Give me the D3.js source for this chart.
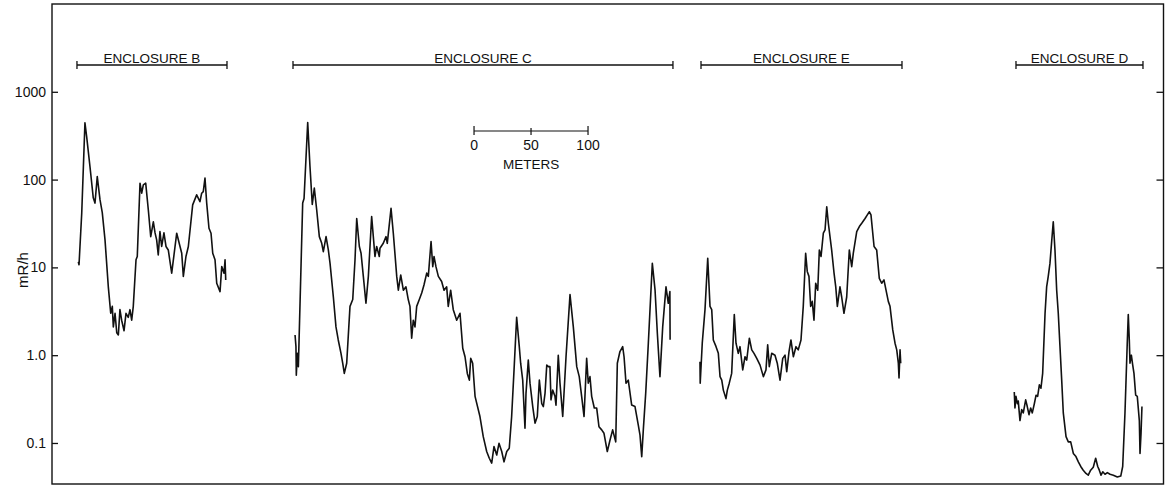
<!DOCTYPE html>
<html>
<head>
<meta charset="utf-8">
<script src="https://cdn.jsdelivr.net/npm/d3@7"></script>
<style>
  body { margin: 0; background: #fff; }
  svg { display: block; }
  text { font-family: "Liberation Sans", Arial, sans-serif; fill: #111; }
  .trace { fill: none; stroke: #111; stroke-width: 1.6; stroke-linejoin: round; }
</style>
</head>
<body>
<script>
// distance along traverse (m) and exposure rate (mR/h)
var traceB = [
  [23.1, 11.6], [23.7, 10.7], [26.1, 42], [28.9, 443], [30.4, 309], [33.3, 141], [36.2, 62],
  [37.7, 54], [39.7, 108], [42.1, 59], [44.1, 42], [46.5, 20.6], [49.4, 6.0], [51.5, 3.0],
  [52.9, 3.6], [53.8, 2.1], [55.3, 3.0], [56.8, 1.8], [58.2, 1.7], [59.6, 3.3], [61.1, 2.5],
  [63.2, 1.9], [64.9, 3.0], [66.9, 2.7], [68.4, 3.3], [69.9, 2.5], [71.3, 3.6], [73.7, 12.2],
  [74.8, 13.3], [77.2, 91], [78.7, 70], [80.1, 87], [82.2, 91], [84.5, 45], [86.6, 22.4],
  [88.9, 33], [90.4, 24.7], [91.8, 20.6], [93.2, 13.9], [94.7, 25.6], [96.2, 17.3], [98.2, 24.7],
  [100, 17.3], [102, 15.8], [105, 8.6], [109.4, 24.5], [112.3, 17.3], [113.8, 14.5], [115.2, 7.9],
  [117.5, 13.3], [119.6, 17.3], [123.4, 51.5], [126.9, 67], [129.8, 56], [131.3, 70], [132.7, 73],
  [134.2, 104], [135.7, 54], [137.7, 27.9], [139.5, 24.5], [141, 14.5], [143, 12.2], [144.5, 6.6],
  [147.4, 5.3], [148.9, 10.2], [150.9, 8.6], [151.8, 12.2], [152.4, 7.2]
];
var traceC = [
  [213.2, 1.7], [214.0, 1.25], [214.3, 0.59], [215.2, 1.05], [216.1, 0.74], [219.9, 54], [221.1, 61],
  [224.3, 447], [226.3, 141], [228.3, 52], [230.1, 80], [232.2, 45], [234.5, 22.4], [236.6, 18.8],
  [238.0, 15.1], [240.4, 22.4], [242.4, 15.8], [243.9, 11.1], [246.8, 4.6], [249.1, 2.1], [251.1, 1.49],
  [253.5, 1.05], [255.0, 0.81], [256.4, 0.62], [258.5, 0.81], [261.4, 3.6], [263.8, 4.3], [265.8, 12.2],
  [267.3, 36], [269.6, 17.3], [271.1, 14.5], [273.1, 7.9], [275.4, 3.9], [277.5, 7.9], [280.4, 38],
  [283.3, 13.3], [284.8, 17.3], [287.1, 13.3], [287.7, 16.5], [290.6, 18.8], [293.0, 22.4], [294.1, 18.8],
  [297.4, 47], [299.4, 24.5], [302.4, 7.9], [303.8, 5.5], [305.9, 8.2], [308.2, 5.5], [310.5, 6.0],
  [312.5, 4.3], [314.0, 3.6], [315.5, 1.56], [316.9, 2.5], [318.4, 2.1], [319.9, 3.6], [322.2, 4.3],
  [324.3, 5.1], [326.3, 6.3], [328.7, 8.6], [330.1, 7.9], [332.5, 19.7], [334.0, 10.2], [335.1, 13.3],
  [336.8, 10.2], [338.9, 7.9], [341.8, 6.9], [343.9, 5.5], [346.2, 6.0], [347.6, 3.6], [349.7, 5.5],
  [352.0, 3.3], [355.0, 2.5], [357.9, 3.0], [360.3, 1.2], [362.3, 0.96], [364.3, 0.62], [366.1, 0.52],
  [367.3, 0.92], [369.0, 0.81], [371.1, 0.34], [375.4, 0.2], [378.3, 0.118], [381.3, 0.08], [383.6, 0.067],
  [385.7, 0.059], [387.7, 0.091], [390.1, 0.073], [392.1, 0.099], [394.5, 0.08], [396.5, 0.061],
  [398.9, 0.08], [401.1, 0.087], [403.2, 0.2], [405.3, 0.68], [407.6, 2.7], [409.9, 1.25], [411.1, 0.81],
  [412.9, 0.52], [414.9, 0.147], [415.8, 0.37], [417.8, 0.88], [419.3, 0.48], [421.7, 0.26], [423.7, 0.168],
  [425.7, 0.2], [427.5, 0.52], [429.6, 0.28], [431.0, 0.26], [432.5, 0.37], [434.0, 0.77], [435.4, 0.74],
  [436.8, 0.74], [437.7, 0.31], [439.2, 0.4], [441.2, 0.34], [442.1, 0.27], [444.1, 1.0], [445.6, 0.48],
  [448.0, 0.2], [450.9, 0.96], [454.4, 4.9], [457.3, 2.1], [460.3, 0.74], [462.5, 0.57], [464.6, 0.34],
  [466.7, 0.2], [469.0, 0.92], [470.4, 0.48], [471.9, 0.57], [473.4, 0.34], [475.7, 0.25], [477.8, 0.25],
  [479.8, 0.153], [482.2, 0.141], [484.2, 0.129], [487.1, 0.08], [489.5, 0.108], [491.8, 0.141],
  [494.5, 0.103], [495.9, 0.81], [498.2, 1.1], [500.6, 1.25], [501.8, 0.96], [503.5, 0.48], [505.5, 0.52],
  [508.5, 0.27], [511.4, 0.26], [514.3, 0.16], [515.8, 0.123], [517.3, 0.07], [518.7, 0.141], [520.8, 0.37],
  [523.1, 1.37], [526.6, 11.1], [529.0, 5.5], [531.0, 1.78], [533.3, 0.57], [535.7, 2.1], [538.6, 6.0],
  [540.6, 3.9], [542.0, 5.3], [542.2, 1.5]
];
var traceE = [
  [568.4, 0.84], [568.6, 0.48], [570.4, 1.37], [572.8, 3.3], [575.2, 12.7], [577.2, 3.6], [578.7, 3.3],
  [580.1, 1.49], [582.5, 1.25], [584.5, 1.05], [586.0, 0.57], [587.5, 0.52], [588.9, 0.4], [591.2, 0.32],
  [592.4, 0.4], [594.1, 0.48], [596.2, 0.62], [598.5, 2.9], [600.0, 1.37], [602.0, 1.05], [603.5, 1.25],
  [605.9, 0.68], [607.9, 0.96], [609.4, 0.88], [611.7, 1.56], [613.8, 1.15], [615.8, 1.05], [618.2, 0.92],
  [621.1, 0.77], [624.0, 0.57], [626.3, 0.68], [627.8, 1.31], [629.2, 0.74], [631.3, 1.05], [634.2, 1.0],
  [636.2, 0.81], [638.6, 0.52], [641.0, 0.92], [643.0, 1.0], [644.5, 0.65], [646.5, 1.1], [648.2, 1.49],
  [650.3, 0.96], [652.6, 1.25], [654.6, 1.15], [657.0, 1.49], [659.0, 3.6], [661.1, 14.5], [662.5, 9.0],
  [664.0, 7.9], [665.5, 3.6], [666.9, 4.1], [668.4, 2.5], [669.9, 6.6], [671.7, 5.5], [673.1, 15.8],
  [674.6, 13.3], [676.6, 24.5], [678.1, 26.7], [679.6, 49], [681.0, 31.8], [683.9, 15.8], [686.0, 8.6],
  [687.5, 6.0], [688.9, 3.6], [691.2, 6.0], [692.7, 4.6], [694.7, 3.0], [697.1, 4.6], [699.4, 15.8],
  [701.5, 10.2], [702.9, 14.5], [705.9, 25.6], [708.2, 29.2], [710.3, 31.8], [713.2, 36], [715.2, 39.6],
  [717.0, 43], [718.4, 39.6], [721.1, 17.3], [723.4, 15.8], [725.7, 7.5], [727.8, 6.6], [729.8, 7.2],
  [731.6, 5.5], [733.6, 4.1], [735.1, 3.6], [737.5, 1.94], [739.5, 1.37], [741.0, 1.15], [742.4, 0.81],
  [743.0, 0.55], [743.9, 1.15], [744.5, 0.81]
];
var traceD = [
  [844.1, 0.38], [844.7, 0.25], [845.6, 0.34], [846.8, 0.28], [847.6, 0.3], [849.1, 0.18], [850.6, 0.24],
  [852.0, 0.22], [854.1, 0.31], [855.5, 0.26], [857.0, 0.21], [858.5, 0.25], [859.9, 0.22], [861.7, 0.28],
  [863.2, 0.35], [864.6, 0.34], [866.1, 0.46], [867.5, 0.42], [869.0, 0.62], [871.1, 3.0], [872.5, 6.0],
  [873.9, 7.9], [875.4, 11.1], [876.9, 19.7], [878.3, 33], [879.8, 15.8], [881.3, 5.5], [882.7, 3.0],
  [884.2, 1.25], [885.7, 0.52], [887.1, 0.22], [889.5, 0.118], [891.5, 0.103], [893.6, 0.103],
  [895.9, 0.076], [898.2, 0.07], [900.3, 0.061], [902.4, 0.054], [904.6, 0.049], [907.0, 0.045],
  [909.0, 0.043], [911.1, 0.049], [913.4, 0.053], [915.5, 0.067], [917.3, 0.054], [918.7, 0.049],
  [920.2, 0.043], [921.7, 0.047], [923.7, 0.044], [925.7, 0.046], [928.1, 0.044], [931.0, 0.043],
  [934.5, 0.041], [937.5, 0.042], [939.2, 0.054], [941.2, 0.22], [943.2, 1.37], [944.1, 2.9],
  [945.0, 1.49], [945.6, 0.81], [946.8, 1.0], [948.0, 0.77], [949.1, 0.62], [950.6, 0.35], [952.0, 0.34],
  [953.8, 0.18], [954.4, 0.076], [955.3, 0.129], [956.1, 0.26]
];

var enclosureNames = ["ENCLOSURE B", "ENCLOSURE C", "ENCLOSURE E", "ENCLOSURE D"];
var enclosureFrom = [21.9, 211.4, 569.3, 845.6];
var enclosureTo = [153.5, 544.7, 745.6, 957.0];

var yTicks = [0.1, 1, 10, 100, 1000];
var yTickLabels = ["0.1", "1.0", "10", "100", "1000"];
var scaleBarStart = 370.2;
var scaleBarTicks = [0, 50, 100];

var width = 1167, height = 489;
var svg = d3.select("body").append("svg")
  .attr("width", width)
  .attr("height", height);

var x = d3.scaleLinear().domain([0, 975]).range([52, 1163.5]);
var y = d3.scaleLog().domain([0.0341, 10000]).range([484, 4]);

// frame
svg.append("rect")
  .attr("x", x.range()[0]).attr("y", y.range()[1])
  .attr("width", x.range()[1] - x.range()[0])
  .attr("height", y.range()[0] - y.range()[1])
  .attr("fill", "none").attr("stroke", "#111").attr("stroke-width", 1.4);

var leftAxis = svg.append("g")
  .attr("transform", "translate(" + x.range()[0] + ",0)")
  .call(d3.axisLeft(y).tickValues(yTicks)
    .tickFormat(function (d, i) { return yTickLabels[i]; })
    .tickSizeInner(-6).tickSizeOuter(0).tickPadding(6));
leftAxis.select(".domain").remove();
leftAxis.selectAll("line").attr("stroke", "#111").attr("stroke-width", 1.3);
leftAxis.selectAll("text").style("font-size", "14px").attr("fill", "#111")
  .style("font-family", "'Liberation Sans', Arial, sans-serif");

var rightAxis = svg.append("g")
  .attr("transform", "translate(" + x.range()[1] + ",0)")
  .call(d3.axisRight(y).tickValues(yTicks).tickFormat("")
    .tickSizeInner(-7).tickSizeOuter(0));
rightAxis.select(".domain").remove();
rightAxis.selectAll("line").attr("stroke", "#111").attr("stroke-width", 1.3);

svg.append("text")
  .attr("transform", "translate(28,270) rotate(-90)")
  .attr("text-anchor", "middle")
  .style("font-size", "15px")
  .text("mR/h");

// enclosure brackets
var barY = 65;
var enc = svg.selectAll("g.enc").data(enclosureNames).enter().append("g").attr("class", "enc");
enc.append("line")
  .attr("x1", function (d, i) { return x(enclosureFrom[i]); })
  .attr("x2", function (d, i) { return x(enclosureTo[i]); })
  .attr("y1", barY).attr("y2", barY)
  .attr("stroke", "#111").attr("stroke-width", 1.3);
enc.selectAll("line.end")
  .data(function (d, i) { return [enclosureFrom[i], enclosureTo[i]]; })
  .enter().append("line").attr("class", "end")
  .attr("x1", function (d) { return x(d); }).attr("x2", function (d) { return x(d); })
  .attr("y1", barY - 4).attr("y2", barY + 4)
  .attr("stroke", "#111").attr("stroke-width", 1.3);
enc.append("text")
  .attr("x", function (d, i) { return (x(enclosureFrom[i]) + x(enclosureTo[i])) / 2; })
  .attr("y", barY - 2)
  .attr("text-anchor", "middle")
  .style("font-size", "13.5px")
  .text(function (d) { return d; });

// scale bar
var sb = svg.append("g");
var sbY = 131;
sb.append("line")
  .attr("x1", x(scaleBarStart)).attr("x2", x(scaleBarStart + 100))
  .attr("y1", sbY).attr("y2", sbY)
  .attr("stroke", "#111").attr("stroke-width", 1.2);
sb.selectAll("line.t").data(scaleBarTicks).enter().append("line").attr("class", "t")
  .attr("x1", function (d) { return x(scaleBarStart + d); })
  .attr("x2", function (d) { return x(scaleBarStart + d); })
  .attr("y1", function (d) { return d === 50 ? sbY - 3 : sbY - 5; })
  .attr("y2", sbY + 4)
  .attr("stroke", "#111").attr("stroke-width", 1.2);
sb.selectAll("text.t").data(scaleBarTicks).enter().append("text").attr("class", "t")
  .attr("x", function (d) { return x(scaleBarStart + d); })
  .attr("y", sbY + 19)
  .attr("text-anchor", "middle")
  .style("font-size", "14px")
  .text(function (d) { return d; });
sb.append("text")
  .attr("x", x(scaleBarStart + 50))
  .attr("y", sbY + 38)
  .attr("text-anchor", "middle")
  .style("font-size", "13.5px")
  .text("METERS");

// traces
var line = d3.line()
  .x(function (d) { return x(d[0]); })
  .y(function (d) { return y(d[1]); });

svg.selectAll("path.trace")
  .data([traceB, traceC, traceE, traceD])
  .enter().append("path")
  .attr("class", "trace")
  .attr("d", line);
</script>
</body>
</html>
